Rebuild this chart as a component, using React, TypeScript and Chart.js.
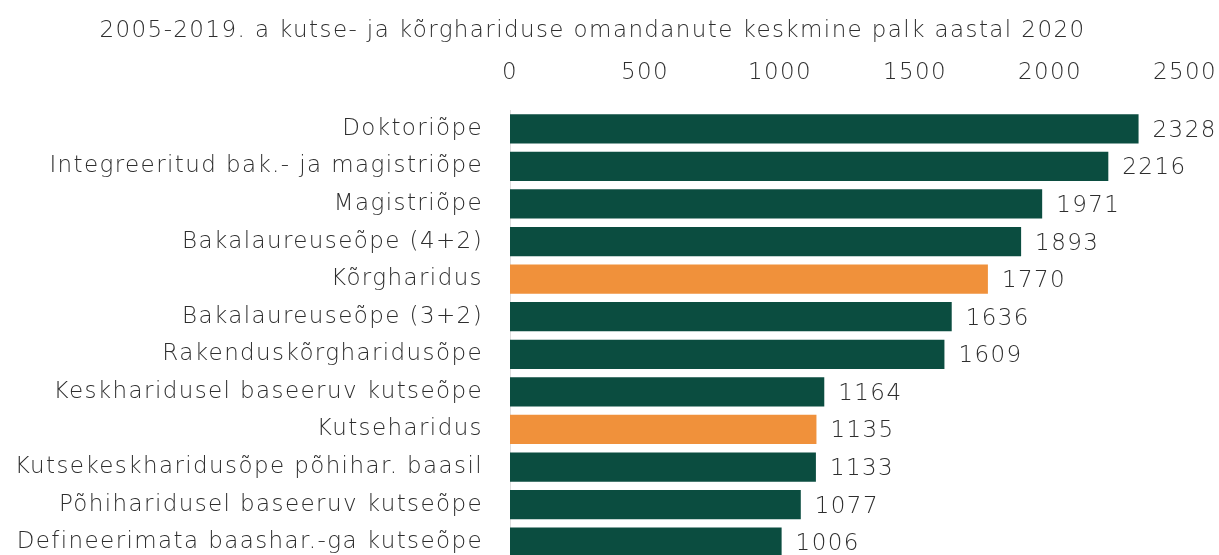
import React, { useEffect, useRef } from "react";
import { Chart, registerables } from "chart.js";

Chart.register(...registerables);

const titleText = "2005-2019. a kutse- ja kõrghariduse omandanute keskmine palk aastal 2020";

const categories = [
  "Doktoriõpe",
  "Integreeritud bak.- ja magistriõpe",
  "Magistriõpe",
  "Bakalaureuseõpe (4+2)",
  "Kõrgharidus",
  "Bakalaureuseõpe (3+2)",
  "Rakenduskõrgharidusõpe",
  "Keskharidusel baseeruv kutseõpe",
  "Kutseharidus",
  "Kutsekeskharidusõpe põhihar. baasil",
  "Põhiharidusel baseeruv kutseõpe",
  "Defineerimata baashar.-ga kutseõpe",
];

const salaries = [2328, 2216, 1971, 1893, 1770, 1636, 1609, 1164, 1135, 1133, 1077, 1006];

const highlighted = ["Kõrgharidus", "Kutseharidus"];

const xTicks = [0, 500, 1000, 1500, 2000, 2500];

const GREEN = "#0b4d40";
const ORANGE = "#f0913b";
const TEXT = "#2e2e2e";
const FONT = "'DejaVu Sans'";
const WEIGHT = "200";
const SIZE = 23;
const LETTER = "1.4px";

const spacing = {
  id: "spacing",
  beforeInit(chart: any) {
    chart.ctx.letterSpacing = LETTER;
  },
  beforeUpdate(chart: any) {
    chart.ctx.letterSpacing = LETTER;
  },
  beforeDraw(chart: any) {
    chart.ctx.letterSpacing = LETTER;
  },
};

const valueLabels = {
  id: "valueLabels",
  afterDatasetsDraw(chart: any) {
    const { ctx } = chart;
    const meta = chart.getDatasetMeta(0);
    ctx.save();
    ctx.letterSpacing = LETTER;
    ctx.font = `${WEIGHT} ${SIZE}px ${FONT}`;
    ctx.fillStyle = TEXT;
    ctx.textAlign = "left";
    ctx.textBaseline = "middle";
    meta.data.forEach((bar: any, i: number) => {
      ctx.fillText(String(salaries[i]), bar.x + 14, bar.y + 2);
    });
    ctx.restore();
  },
};

export default function App() {
  const ref = useRef<HTMLCanvasElement | null>(null);

  useEffect(() => {
    if (!ref.current) return;
    const font = { family: FONT, size: SIZE, weight: WEIGHT as any };
    const chart = new Chart(ref.current, {
      type: "bar",
      data: {
        labels: categories,
        datasets: [
          {
            data: salaries,
            backgroundColor: categories.map((c) => (highlighted.includes(c) ? ORANGE : GREEN)),
            barPercentage: 0.78,
            categoryPercentage: 1,
          },
        ],
      },
      options: {
        indexAxis: "y",
        animation: false,
        responsive: false,
        layout: { padding: { left: 0, right: 34, top: 0, bottom: 0 } },
        plugins: {
          legend: { display: false },
          tooltip: { enabled: false },
          title: {
            display: true,
            text: titleText,
            color: TEXT,
            font,
            padding: { top: 17, bottom: 14 },
          },
        },
        scales: {
          x: {
            position: "top",
            min: 0,
            max: 2500,
            afterBuildTicks: (scale: any) => {
              scale.ticks = xTicks.map((v) => ({ value: v }));
            },
            afterFit: (scale: any) => {
              scale.height = 51.4;
              scale.paddingLeft = 0;
              scale.paddingRight = 0;
            },
            grid: { display: false, drawTicks: false },
            border: { display: false },
            ticks: {
              color: TEXT,
              padding: 23,
              font,
              callback: (v: any) => String(v),
            },
          },
          y: {
            grid: { display: false, drawTicks: false },
            border: { display: true, color: "#dddddd", width: 1 },
            afterFit: (scale: any) => {
              scale.width = 510;
              scale.paddingTop = 0;
              scale.paddingBottom = 0;
            },
            ticks: {
              color: TEXT,
              padding: 27,
              font,
            },
          },
        },
      },
      plugins: [spacing, valueLabels],
    });
    return () => chart.destroy();
  }, []);

  return (
    <div style={{ position: "absolute", top: 0, left: 0, width: 1219, height: 561 }}>
      <canvas ref={ref} width={1219} height={561} style={{ display: "block" }} />
    </div>
  );
}
